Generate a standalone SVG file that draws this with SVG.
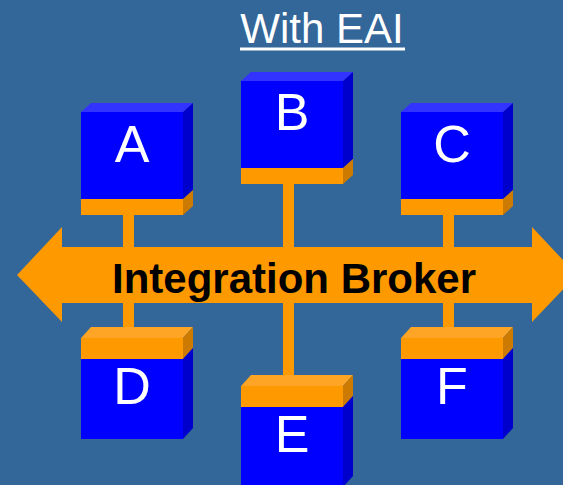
<svg xmlns="http://www.w3.org/2000/svg" width="563" height="485" viewBox="0 0 563 485">
<style>
.bg{fill:#336699}
.ft{fill:#0000FF}
.tp{fill:#3333FF}
.sd{fill:#0000CC}
.or{fill:#FF9900}
.ors{fill:#CC7A00}
.ort{fill:#FFA526}
.lbl{font-family:"Liberation Sans",Arial,sans-serif;font-size:52px;fill:#FFFFFF;text-anchor:middle}
</style>
<defs>
<g id="upper">
<polygon class="tp" points="0,0 10,-9 112,-9 102,0"/>
<rect class="ft" x="0" y="0" width="102" height="87"/>
<rect class="or" x="0" y="87" width="102" height="16"/>
<polygon class="sd" points="102,0 112,-9 112,78 102,87"/>
<polygon class="ors" points="102,87 112,78 112,94 102,103"/>
</g>
<g id="lower">
<polygon class="ort" points="0,0 10,-11 112,-11 102,0"/>
<rect class="or" x="0" y="0" width="102" height="21"/>
<rect class="ft" x="0" y="21" width="102" height="80"/>
<polygon class="ors" points="102,0 112,-11 112,10 102,21"/>
<polygon class="sd" points="102,21 112,10 112,90 102,101"/>
</g>
</defs>
<rect class="bg" x="0" y="0" width="563" height="485"/>
<g id="title">
<text x="322" y="43" font-family="'Liberation Sans',Arial,sans-serif" font-size="42" fill="#FFFFFF" text-anchor="middle">With EAI</text>
<rect x="240" y="47.5" width="165" height="3" fill="#FFFFFF"/>
</g>
<g id="connectors">
<rect class="or" x="123" y="210" width="11" height="120"/>
<rect class="or" x="283" y="178" width="11" height="200"/>
<rect class="or" x="443" y="210" width="11" height="120"/>
</g>
<g id="broker">
<polygon class="or" points="17,275 62,227 62,247 532,247 532,227 577,275 532,322 532,303 62,303 62,322"/>
<text x="294" y="293" font-family="'Liberation Sans',Arial,sans-serif" font-size="42" font-weight="bold" fill="#000000" text-anchor="middle">Integration Broker</text>
</g>
<g id="nodeA"><use href="#upper" x="81" y="112"/><text class="lbl" x="132" y="162">A</text></g>
<g id="nodeB"><use href="#upper" x="241" y="81"/><text class="lbl" x="292" y="130">B</text></g>
<g id="nodeC"><use href="#upper" x="401" y="112"/><text class="lbl" x="452" y="162">C</text></g>
<g id="nodeD"><use href="#lower" x="81" y="338"/><text class="lbl" x="132" y="404">D</text></g>
<g id="nodeE"><use href="#lower" x="241" y="386"/><text class="lbl" x="292" y="452">E</text></g>
<g id="nodeF"><use href="#lower" x="401" y="338"/><text class="lbl" x="452" y="404">F</text></g>
</svg>
